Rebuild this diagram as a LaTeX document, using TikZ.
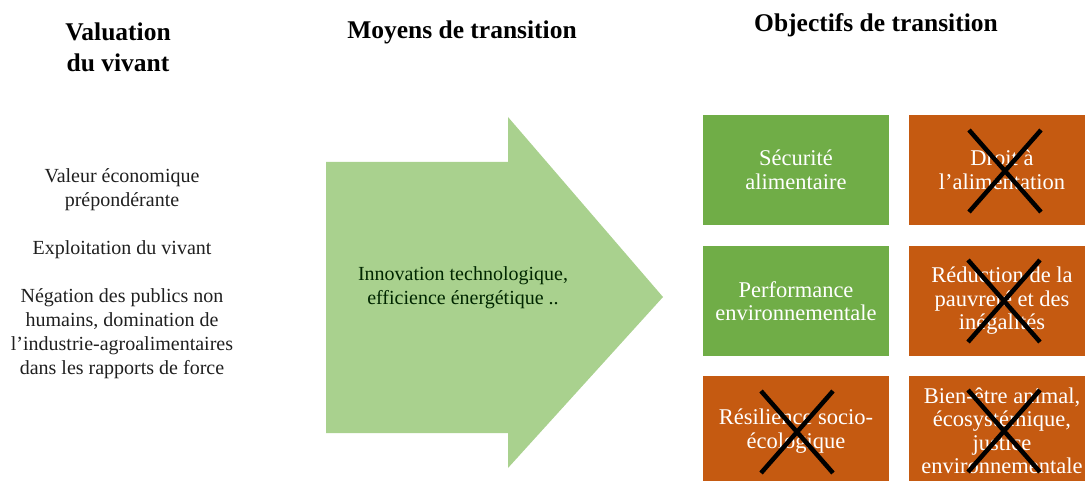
\documentclass[tikz,border=0pt]{standalone}
\usepackage{fontspec}
\setmainfont{Liberation Serif}
\definecolor{arrowgreen}{HTML}{A9D18E}
\definecolor{boxgreen}{HTML}{70AD47}
\definecolor{boxorange}{HTML}{C55A11}
\begin{document}
\begin{tikzpicture}[x=1pt,y=-1pt,
  title/.style={font=\bfseries\fontsize{25.5}{31}\selectfont, align=center, text=black},
  body/.style={font=\fontsize{20}{24}\selectfont, align=center, text=black!88},
  goalbox/.style={rectangle, minimum width=186pt, minimum height=110pt, inner sep=0pt,
     align=center, text=white, font=\fontsize{22.5}{23.5}\selectfont},
  ok/.style={goalbox, fill=boxgreen},
  ko/.style={goalbox, fill=boxorange},
  cross/.style={line width=4.5pt, black}]
\useasboundingbox (0,0) rectangle (1085,481);
\clip (0,0) rectangle (1085,481);
% titles
\node[title] (t1) at (118,47) {Valuation\\du vivant};
\node[title] (t2) at (462,32) {Moyens de transition};
\node[title] (t3) at (876,25) {Objectifs de transition};
% left texts
\node[body] (l1) at (122,190) {Valeur économique\\prépondérante};
\node[body] (l2) at (122,250) {Exploitation du vivant};
\node[body] (l3) at (122,334) {Négation des publics non\\humains, domination de\\l’industrie-agroalimentaires\\dans les rapports de force};
% arrow
\fill[arrowgreen] (326,162) -- (508,162) -- (508,117) -- (663,297) -- (508,468) -- (508,433) -- (326,433) -- cycle;
\node[body, text=black!85!green] (m) at (463,288) {Innovation technologique,\\efficience énergétique ..};
% goal boxes
\node[ok] (g1) at (796,170) {Sécurité\\alimentaire};
\node[ko] (g2) at (1002,170) {Droit à\\l’alimentation};
\node[ok] (g3) at (796,301) {Performance\\environnementale};
\node[ko] (g4) at (1002,301) {Réduction de la\\pauvreté et des\\inégalités};
\node[ko] (g5) at (796,431) {Résilience socio-\\écologique};
\node[ko] (g6) at (1002,431) {Bien-être animal,\\écosystémique,\\justice\\environnementale};
% crosses
\foreach \n/\dx/\dy in {g2/3/1, g4/2/0, g5/1/1, g6/2/0}{
  \draw[cross] ([shift={(\dx-36,\dy-41)}]\n.center) -- ([shift={(\dx+36,\dy+41)}]\n.center);
  \draw[cross] ([shift={(\dx+36,\dy-41)}]\n.center) -- ([shift={(\dx-36,\dy+41)}]\n.center);
}
\end{tikzpicture}
\end{document}
